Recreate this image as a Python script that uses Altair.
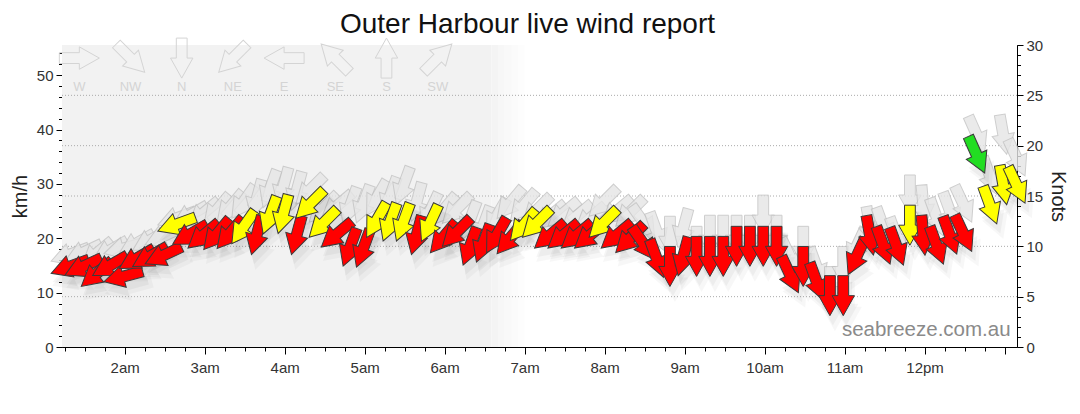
import altair as alt
import pandas as pd

DAY = "2024-01-01"

# ---- observations (10-minute readings) ----
times = [
    "01:19", "01:29", "01:39", "01:49", "01:59", "02:09", "02:19", "02:29", "02:39", "02:49",
    "02:59", "03:09", "03:19", "03:29", "03:39", "03:49", "03:59", "04:09", "04:19", "04:29",
    "04:39", "04:49", "04:59", "05:09", "05:19", "05:29", "05:39", "05:49", "05:59", "06:09",
    "06:19", "06:29", "06:39", "06:49", "06:59", "07:09", "07:19", "07:29", "07:39", "07:49",
    "07:59", "08:09", "08:19", "08:29", "08:39", "08:49", "08:59", "09:09", "09:19", "09:29",
    "09:39", "09:49", "09:59", "10:09", "10:19", "10:29", "10:39", "10:49", "10:59", "11:09",
    "11:19", "11:29", "11:39", "11:49", "11:59", "12:09", "12:19", "12:29", "12:39", "12:49",
    "12:59", "13:09",
]
speed_kn = [
    8.0, 8.0, 7.3, 8.1, 7.0, 8.8, 9.0, 9.1, 12.2, 11.2,
    11.1, 11.2, 11.3, 11.9, 11.1, 13.1, 13.2, 11.1, 14.2, 12.3,
    11.2, 9.9, 9.8, 12.6, 12.4, 12.4, 11.1, 12.3, 10.9, 11.4,
    10.0, 10.3, 11.1, 10.8, 12.1, 12.3, 11.1, 11.1, 11.1, 11.1,
    12.3, 11.1, 10.8, 10.3, 8.8, 8.0, 9.0, 9.0, 9.0, 9.0,
    10.0, 10.0, 10.0, 10.0, 7.2, 8.0, 6.5, 5.1, 5.1, 9.0,
    11.1, 10.1, 10.0, 12.1, 11.1, 10.1, 11.1, 11.3, 19.1, 14.1,
    16.1, 16.1,
]
gust_kn = [
    9.2, 9.4, 9.3, 9.6, 9.8, 10.3, 10.6, 11.0, 12.8, 13.1,
    13.3, 13.6, 13.9, 14.4, 14.7, 15.7, 15.9, 15.5, 15.6, 13.8,
    14.0, 14.0, 14.2, 14.8, 15.0, 16.0, 14.4, 13.5, 13.6, 13.7,
    12.6, 12.1, 13.0, 14.3, 14.0, 13.6, 13.0, 13.3, 13.0, 12.8,
    14.4, 13.5, 13.4, 12.4, 11.5, 11.0, 11.8, 10.0, 11.1, 11.1,
    11.1, 11.1, 13.1, 11.1, 9.0, 10.0, 8.0, 6.0, 8.0, 10.0,
    12.0, 12.0, 11.0, 15.1, 14.1, 12.9, 13.5, 14.2, 21.1, 17.0,
    21.1, 18.8,
]
dir_deg = [
    70, 65, 50, 60, 75, 60, 60, 65, 70, 60,
    50, 40, 40, 35, 15, 20, 15, 15, 45, 45,
    50, 20, 20, 30, 20, 20, 15, 25, 40, 45,
    20, 20, 30, 40, 40, 45, 50, 50, 50, 50,
    45, 50, 45, 325, 340, 0, 15, 0, 0, 0,
    0, 0, 0, 0, 335, 0, 340, 0, 0, 25,
    350, 340, 340, 0, 355, 340, 340, 335, 336, 340,
    350, 335,
]

# ---- axis / legend text ----
knot_grid = [5, 10, 15, 20, 25]
kmh_major = [0, 10, 20, 30, 40, 50]
kmh_minor = list(range(0, 56, 2))
knot_major = [0, 5, 10, 15, 20, 25, 30]
knot_minor = list(range(0, 31))
hour_ticks = list(range(2, 14))
legend_labels = ["W", "NW", "N", "NE", "E", "SE", "S", "SW"]
legend_dirs = [270, 315, 0, 45, 90, 135, 180, 225]
night_edges = ["01:13", "06:35", "06:40", "06:45", "06:50", "06:55", "07:00"]
night_fade = [1.0, 0.85, 0.65, 0.45, 0.28, 0.12]
TITLE = "Outer Harbour live wind report"
WATERMARK = "seabreeze.com.au"
KMH_PER_KNOT = 1.852
MID_KN, STRONG_KN = 11.6, 18.0

FONT = "Liberation Sans"
ARROW = "M-0.27,-1L0.27,-1L0.27,0L0.56,0L0,1L-0.56,0L-0.27,0Z"

df = pd.DataFrame({
    "time": [f"{DAY}T{t}:00" for t in times],
    "speed": speed_kn,
    "gust": gust_kn,
    "dir": dir_deg,
})
df["kmh"] = df["speed"] * KMH_PER_KNOT
df["band"] = ["strong" if s >= STRONG_KN else ("mid" if s >= MID_KN else "light") for s in df["speed"]]

night = pd.DataFrame({
    "start": [f"{DAY}T{t}:00" for t in night_edges[:-1]],
    "end": [f"{DAY}T{t}:00" for t in night_edges[1:]],
    "op": night_fade,
})
grid = pd.DataFrame({"k": knot_grid})

leg_t0 = pd.Timestamp(f"{DAY}T01:26:00")
legend = pd.DataFrame({
    "time": [(leg_t0 + pd.Timedelta(minutes=38.4 * i)).strftime("%Y-%m-%dT%H:%M:%S")
             for i in range(len(legend_labels))],
    "label": legend_labels,
    "dir": legend_dirs,
})
legend["ay"] = 28.7
legend["ly"] = 25.8

wm = pd.DataFrame({"time": [f"{DAY}T13:04:30"], "y": [0.7], "t": [WATERMARK]})


def dt(h, m=0, s=0):
    return alt.DateTime(year=2024, month=1, date=1, hours=h, minutes=m, seconds=s)


xscale = alt.Scale(domain=[dt(1, 13), dt(13, 9, 20)])
kn_scale = alt.Scale(domain=[0, 30], nice=False, zero=True)
kmh_scale = alt.Scale(domain=[0, 30 * KMH_PER_KNOT], nice=False, zero=True)

hour_values = [dt(h) for h in hour_ticks]
quarter_values = [dt(1 + (15 + 15 * i) // 60, (15 + 15 * i) % 60) for i in range(48)]

common = dict(domainColor="#000", tickColor="#000", grid=False)
lab = dict(labelFontSize=15, labelColor="#333", labelFont=FONT)
ttl = dict(titleFontSize=20, titleFontWeight="normal", titleColor="#222", titleFont=FONT)

HOUR_LABEL = ("hours(datum.value) >= 13 ? '' : "
              "(hours(datum.value) % 12 == 0 ? 12 : hours(datum.value) % 12) + "
              "(hours(datum.value) < 12 ? 'am' : 'pm')")

x_major = alt.Axis(orient="bottom", values=hour_values, labelExpr=HOUR_LABEL,
                   tickSize=7, labelPadding=6, labelOverlap=False, labelFlush=False,
                   title=None, **common, **lab)
x_minor = alt.Axis(orient="bottom", values=quarter_values,
                   tickSize=4, labels=False, domain=False, title=None, **common)
y_left_major = alt.Axis(orient="left", values=kmh_major, tickSize=6, labelPadding=3,
                        title="km/h", titlePadding=6, **common, **lab, **ttl)
y_left_minor = alt.Axis(orient="left", values=kmh_minor, tickSize=3.5, labels=False,
                        domain=False, title=None, **common)
y_right_major = alt.Axis(orient="right", values=knot_major, tickSize=6, labelPadding=3,
                         title="Knots", titlePadding=5, **common, **lab, **ttl)
y_right_minor = alt.Axis(orient="right", values=knot_minor, tickSize=3.5, labels=False,
                         domain=False, title=None, **common)

XN = alt.X("time:T", scale=xscale, axis=None, title=None)
ANG = alt.Angle("dir:Q", scale=None)

night_layer = alt.Chart(night).mark_rect(color="#f2f2f2").encode(
    x=alt.X("start:T", scale=xscale, axis=None, title=None), x2="end:T",
    opacity=alt.Opacity("op:Q", scale=None),
)

axis_a = alt.Chart(df).mark_point(opacity=0).encode(
    x=alt.X("time:T", scale=xscale, axis=x_major, title=None),
    y=alt.Y("kmh:Q", scale=kmh_scale, axis=y_left_major),
)
axis_b = alt.Chart(df).mark_point(opacity=0).encode(
    x=alt.X("time:T", scale=xscale, axis=x_minor, title=None),
    y=alt.Y("kmh:Q", scale=kmh_scale, axis=y_left_minor),
)
axis_c = alt.Chart(df).mark_point(opacity=0).encode(
    x=XN, y=alt.Y("speed:Q", scale=kn_scale, axis=y_right_major),
)
axis_d = alt.Chart(df).mark_point(opacity=0).encode(
    x=XN, y=alt.Y("speed:Q", scale=kn_scale, axis=y_right_minor),
)

grid_layer = alt.Chart(grid).mark_rule(color="#aaa", strokeDash=[1, 2], strokeWidth=1).encode(
    y=alt.Y("k:Q", scale=kn_scale, axis=None)
)

gust_layer = alt.Chart(df).mark_point(
    shape=ARROW, size=1600, filled=True, fill="#e6e6e6", stroke="#c2c2c2",
    strokeWidth=1, opacity=0.8,
).encode(x=XN, y=alt.Y("gust:Q", scale=kn_scale, axis=None), angle=ANG)

shadow1 = alt.Chart(df).mark_point(
    shape=ARROW, size=2400, filled=True, color="#000", opacity=0.03,
    strokeWidth=0, xOffset=5, yOffset=11,
).encode(x=XN, y=alt.Y("speed:Q", scale=kn_scale, axis=None), angle=ANG)

shadow2 = alt.Chart(df).mark_point(
    shape=ARROW, size=1900, filled=True, color="#000", opacity=0.04,
    strokeWidth=0, xOffset=3, yOffset=8,
).encode(x=XN, y=alt.Y("speed:Q", scale=kn_scale, axis=None), angle=ANG)

speed_layer = alt.Chart(df).mark_point(
    shape=ARROW, size=1600, filled=True, stroke="#3a3a3a", strokeWidth=1, opacity=1,
).encode(
    x=XN, y=alt.Y("speed:Q", scale=kn_scale, axis=None), angle=ANG,
    color=alt.Color("band:N", scale=alt.Scale(domain=["light", "mid", "strong"],
                                              range=["#ff0000", "#ffff00", "#22dd22"]), legend=None),
)

legend_arrows = alt.Chart(legend).mark_point(
    shape=ARROW, size=1600, filled=False, stroke="#d4d4d4", strokeWidth=1, opacity=1,
).encode(x=XN, y=alt.Y("ay:Q", scale=kn_scale, axis=None), angle=ANG)

legend_text = alt.Chart(legend).mark_text(
    color="#d4d4d4", fontSize=13, font=FONT, baseline="middle",
).encode(x=XN, y=alt.Y("ly:Q", scale=kn_scale, axis=None), text="label:N")

watermark = alt.Chart(wm).mark_text(
    align="right", baseline="bottom", fontSize=20.5, font=FONT, color="#8a8a8a",
).encode(x=XN, y=alt.Y("y:Q", scale=kn_scale, axis=None), text="t:N")

chart = alt.layer(
    night_layer, axis_a, axis_b, axis_c, axis_d, grid_layer, gust_layer, shadow1, shadow2,
    speed_layer, legend_arrows, legend_text, watermark,
).resolve_scale(x="independent", y="independent").properties(
    width=955, height=302,
    padding={"left": 54, "top": 37, "right": 55, "bottom": 50},
    autosize=alt.AutoSizeParams(type="none"),
    background="white",
    title=alt.TitleParams(TITLE, fontSize=28, fontWeight="normal", font=FONT,
                          color="#111", anchor="middle", offset=9, dy=12, dx=-12),
).configure_view(stroke=None)

chart.save("out.html", embed_options={"renderer": "svg", "actions": False})
